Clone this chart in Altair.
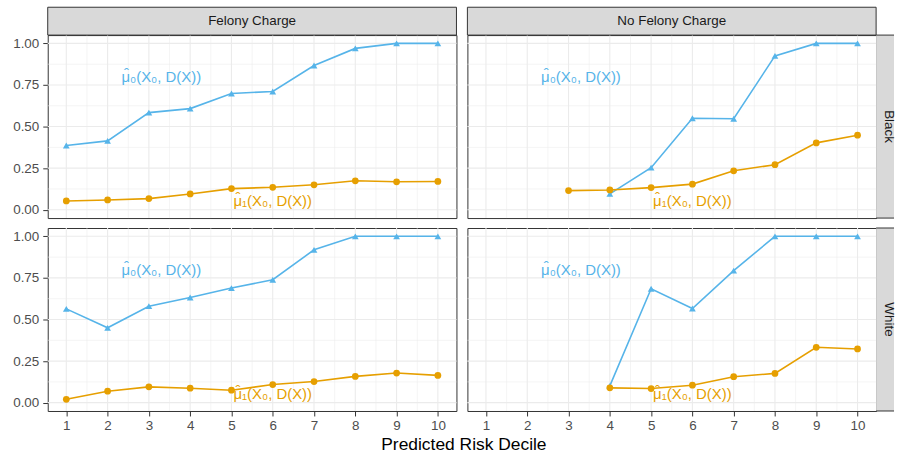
import altair as alt
import pandas as pd

deciles = list(range(1, 11))
charges = ["Felony Charge", "No Felony Charge"]
races = ["Black", "White"]

fel_black_mu0 = [0.386, 0.414, 0.584, 0.608, 0.699, 0.711, 0.867, 0.970, 1.0, 1.0]
fel_black_mu1 = [0.053, 0.059, 0.067, 0.095, 0.127, 0.135, 0.150, 0.174, 0.168, 0.170]
nofel_black_mu0 = [None, None, None, 0.095, 0.253, 0.550, 0.547, 0.925, 1.0, 1.0]
nofel_black_mu1 = [None, None, 0.115, 0.119, 0.133, 0.154, 0.234, 0.271, 0.402, 0.448]
fel_white_mu0 = [0.564, 0.450, 0.580, 0.632, 0.689, 0.739, 0.919, 1.0, 1.0, 1.0]
fel_white_mu1 = [0.020, 0.069, 0.095, 0.087, 0.075, 0.109, 0.127, 0.158, 0.178, 0.164]
nofel_white_mu0 = [None, None, None, 0.101, 0.685, 0.566, 0.794, 1.0, 1.0, 1.0]
nofel_white_mu1 = [None, None, None, 0.089, 0.085, 0.105, 0.156, 0.176, 0.333, 0.323]

series_names = ["mu0", "mu1"]
label_texts = ["\u03bc\u2080(X\u2080, D(X))", "\u03bc\u2081(X\u2080, D(X))"]
label_x = [3.3, 6.0]
label_y = [0.80, 0.05]

y_major = [0, 0.25, 0.5, 0.75, 1.0]
y_minor = [0.125, 0.375, 0.625, 0.875]
x_minor = [1.5, 2.5, 3.5, 4.5, 5.5, 6.5, 7.5, 8.5, 9.5]

panel_data = {
    ("Felony Charge", "Black"): (fel_black_mu0, fel_black_mu1),
    ("No Felony Charge", "Black"): (nofel_black_mu0, nofel_black_mu1),
    ("Felony Charge", "White"): (fel_white_mu0, fel_white_mu1),
    ("No Felony Charge", "White"): (nofel_white_mu0, nofel_white_mu1),
}

BLUE = "#56B4E9"
ORANGE = "#E69F00"
FONT = "Liberation Sans"
W, H = 411, 184
STRIP_H = 28
RSTRIP_W = 18

xscale = alt.Scale(domain=[0.55, 10.45], nice=False, zero=False)
yscale = alt.Scale(domain=[-0.05, 1.05], nice=False, zero=False)
cscale = alt.Scale(domain=series_names, range=[BLUE, ORANGE])
sscale = alt.Scale(domain=series_names, range=["triangle-up", "circle"])


def panel(charge, race, col, row):
    m0, m1 = panel_data[(charge, race)]
    recs = []
    for s, vals in zip(series_names, (m0, m1)):
        for d, v in zip(deciles, vals):
            if v is not None:
                recs.append({"decile": d, "value": v, "series": s})
    df = pd.DataFrame(recs)
    lab = pd.DataFrame({"series": series_names, "text": label_texts,
                        "lx": label_x, "ly": label_y})

    if row == 1:
        xaxis = alt.Axis(values=deciles, grid=False, domain=False,
                         tickColor="#333333", tickSize=5, labelColor="#4D4D4D",
                         labelFontSize=13.5, labelFont=FONT, labelPadding=3,
                         title="Predicted Risk Decile" if col == 0 else None,
                         titleFont=FONT, titleFontSize=17.5, titleFontWeight="normal",
                         titleColor="#000000", titleX=418, titleAlign="center",
                         titlePadding=3)
    else:
        xaxis = None
    if col == 0:
        yaxis = alt.Axis(values=y_major, format=".2f", grid=False, domain=False,
                         tickColor="#333333", tickSize=5, labelColor="#4D4D4D",
                         labelFontSize=13.5, labelFont=FONT, labelPadding=4,
                         title=None)
    else:
        yaxis = None

    X = lambda f: alt.X(f, type="quantitative", scale=xscale, axis=xaxis)
    Y = lambda f: alt.Y(f, type="quantitative", scale=yscale, axis=yaxis)

    gx_major = alt.Chart(pd.DataFrame({"gx": deciles})).mark_rule(
        color="#EBEBEB", strokeWidth=1.1).encode(x=X("gx"))
    gx_minor = alt.Chart(pd.DataFrame({"gx": x_minor})).mark_rule(
        color="#EBEBEB", strokeWidth=0.55).encode(x=X("gx"))
    gy_major = alt.Chart(pd.DataFrame({"gy": y_major})).mark_rule(
        color="#EBEBEB", strokeWidth=1.1).encode(y=Y("gy"))
    gy_minor = alt.Chart(pd.DataFrame({"gy": y_minor})).mark_rule(
        color="#EBEBEB", strokeWidth=0.55).encode(y=Y("gy"))

    base = alt.Chart(df)
    lines = base.mark_line(strokeWidth=1.6).encode(
        x=X("decile"), y=Y("value"),
        color=alt.Color("series:N", scale=cscale, legend=None),
        detail="series:N")
    pts = base.mark_point(filled=True, opacity=1, size=46).encode(
        x=X("decile"), y=Y("value"),
        color=alt.Color("series:N", scale=cscale, legend=None),
        shape=alt.Shape("series:N", scale=sscale, legend=None))
    labels = alt.Chart(lab).mark_text(font=FONT, fontSize=15, align="center",
                                      baseline="middle").encode(
        x=X("lx"), y=Y("ly"), text="text:N",
        color=alt.Color("series:N", scale=cscale, legend=None))
    hats = alt.Chart(lab).mark_text(font=FONT, fontSize=15, align="center",
                                    baseline="middle", text="\u02c6",
                                    dx=-35, dy=-3).encode(
        x=X("lx"), y=Y("ly"),
        color=alt.Color("series:N", scale=cscale, legend=None))

    layers = [gx_minor, gy_minor, gx_major, gy_major, lines, pts, labels, hats]

    if row == 0:
        sdf = pd.DataFrame({"label": [charge]})
        srect = alt.Chart(sdf).mark_rect(fill="#D9D9D9", stroke="#333333",
                                         strokeWidth=1).encode(
            x=alt.value(0), x2=alt.value(W), y=alt.value(-STRIP_H), y2=alt.value(0))
        stext = alt.Chart(sdf).mark_text(font=FONT, fontSize=13.5, color="#1A1A1A",
                                         baseline="middle", align="center").encode(
            x=alt.value(W / 2), y=alt.value(-STRIP_H / 2), text="label:N")
        layers += [srect, stext]
    if col == 1:
        rdf = pd.DataFrame({"label": [race]})
        rrect = alt.Chart(rdf).mark_rect(fill="#D9D9D9").encode(
            x=alt.value(W), x2=alt.value(W + RSTRIP_W), y=alt.value(0), y2=alt.value(H))
        rtop = alt.Chart(rdf).mark_rule(color="#333333", strokeWidth=1).encode(
            x=alt.value(W), x2=alt.value(W + RSTRIP_W), y=alt.value(0))
        rbot = alt.Chart(rdf).mark_rule(color="#333333", strokeWidth=1).encode(
            x=alt.value(W), x2=alt.value(W + RSTRIP_W), y=alt.value(H))
        rtext = alt.Chart(rdf).mark_text(font=FONT, fontSize=13.5, color="#1A1A1A",
                                         angle=90, baseline="middle",
                                         align="center").encode(
            x=alt.value(W + 13), y=alt.value(H / 2), text="label:N")
        layers += [rrect, rtop, rbot, rtext]

    return alt.layer(*layers).properties(width=W, height=H)


panels = []
for r, race in enumerate(races):
    for c, charge in enumerate(charges):
        panels.append(panel(charge, race, c, r))

chart = alt.concat(*panels, columns=2, spacing={"row": 10, "column": 11},
                   bounds="flush").properties(
    padding={"left": 12, "top": 5, "right": 0, "bottom": 4},
    background="white",
).configure_view(stroke="#333333", strokeWidth=1)

chart.save("out.html", embed_options={"renderer": "svg", "actions": False})
